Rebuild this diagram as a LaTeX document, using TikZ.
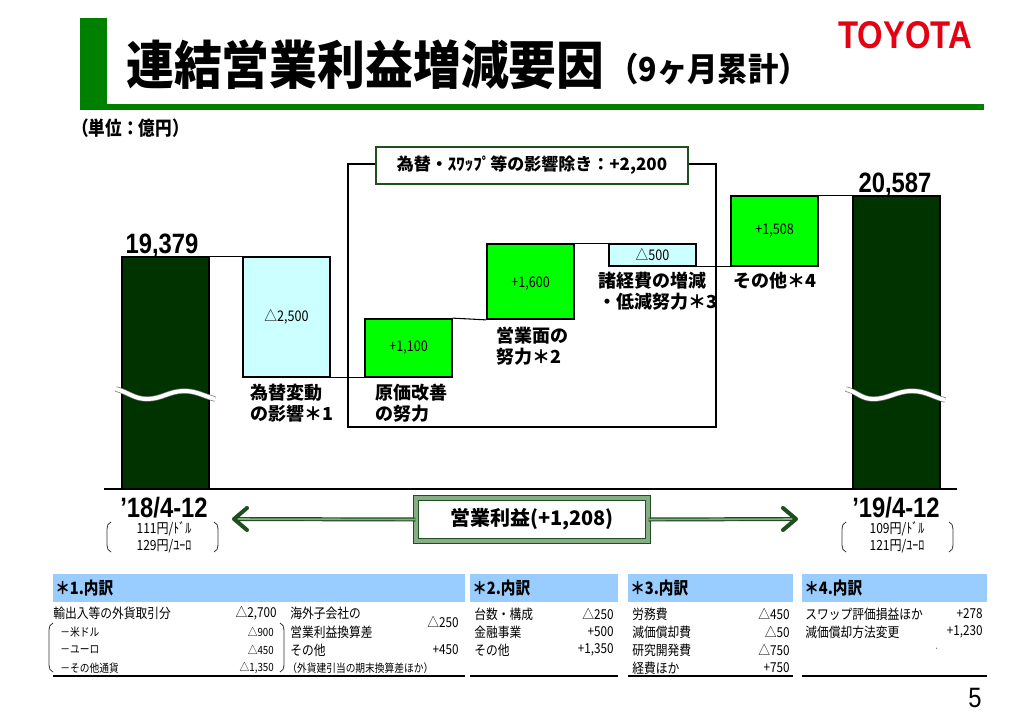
\documentclass[tikz,border=0pt]{standalone}
\usepackage{fontspec}
\setmainfont{Noto Sans CJK JP}
\newfontfamily\jpc{Noto Sans CJK JP}[FakeStretch=0.86]
\newfontfamily\jpt{Noto Sans CJK JP}[FakeStretch=0.92]
\newfontfamily\numb{Liberation Sans}[FakeStretch=0.85]
\newfontfamily\arial{Liberation Sans}
\usetikzlibrary{fit,calc}
\definecolor{tgreen}{HTML}{008000}
\definecolor{dkbar}{HTML}{003300}
\definecolor{lcyan}{HTML}{CCFFFF}
\definecolor{lgreen}{HTML}{00FF00}
\definecolor{dgreen}{HTML}{1F4F1F}
\definecolor{mgreen}{HTML}{86AD86}
\definecolor{hblue}{HTML}{99CCFF}
\definecolor{tred}{HTML}{E50012}
\begin{document}
\begin{tikzpicture}[x=0.75pt,y=-0.75pt,
  bar/.style={draw=black, line width=1.3pt, fill=dkbar, inner sep=0pt},
  negbox/.style={draw=black, line width=1.3pt, fill=lcyan, inner sep=0pt},
  posbox/.style={draw=black, line width=1.3pt, fill=lgreen, inner sep=0pt},
  val/.style={font=\jpc\fontsize{11}{12}\selectfont, inner sep=0pt},
  link/.style={line width=0.8pt},
  lbl/.style={font=\bfseries\fontsize{13.5}{15.75}\selectfont, align=left, anchor=north west, inner sep=0pt},
  bignum/.style={font=\numb\bfseries\fontsize{21}{24}\selectfont, anchor=base, inner sep=0pt},
  rate/.style={font=\jpc\fontsize{10.5}{12.75}\selectfont, align=center, inner sep=0pt},
  paren/.style={line width=0.6pt, black!80},
  wave/.style={draw=black!55, double=white, line width=0.5pt, double distance=3pt},
  shaft/.style={draw=dgreen, double=mgreen, line width=0.9pt, double distance=1.2pt},
  head/.style={draw=dgreen, line width=3pt, line cap=round, line join=round},
  hdr/.style={fill=hblue, inner sep=0pt},
  htxt/.style={font=\jpc\bfseries\fontsize{12.75}{14}\selectfont, anchor=west, inner sep=0pt},
  tl/.style={font=\jpc\fontsize{10.25}{12}\selectfont, anchor=west, inner sep=0pt},
  tr/.style={font=\jpc\fontsize{10.25}{12}\selectfont, anchor=east, inner sep=0pt},
  tsl/.style={font=\jpc\fontsize{8.5}{10}\selectfont, anchor=west, inner sep=0pt},
  tsr/.style={font=\jpc\fontsize{8.5}{10}\selectfont, anchor=east, inner sep=0pt},
  rule/.style={line width=1.6pt}
]
\useasboundingbox (0,0) rectangle (1024,721);
\fill[white] (0,0) rectangle (1024,721);

% ---- header ----
\fill[tgreen] (80,18) rectangle (107,110);
\fill[tgreen] (80,104) rectangle (984,110);
\node[anchor=west, inner sep=0pt, font=\jpt\bfseries\fontsize{39}{42}\selectfont] (title) at (126,65) {連結営業利益増減要因};
\node[anchor=west, inner sep=0pt, font=\jpt\bfseries\fontsize{24.75}{28}\selectfont] (sub) at (608,69) {（9ヶ月累計）};
\node[inner sep=0pt, text=tred, font=\numb\bfseries\fontsize{29}{30}\selectfont] (logo) at (905,35) {TOYOTA};
\node[anchor=west, inner sep=0pt, font=\jpc\bfseries\fontsize{14.5}{16}\selectfont] (unit) at (72,128) {（単位：億円）};

% ---- frame for excluding FX ----
\draw[line width=1.5pt] (348,164) rectangle (716,427);
\node[inner sep=0pt, minimum width=234pt, minimum height=27.75pt, draw=dgreen, line width=2pt, fill=white,
      font=\bfseries\fontsize{12.75}{14}\selectfont] (ex) at (532,165.5) {為替・ｽﾜｯﾌﾟ等の影響除き：+2,200};

% ---- waterfall ----
\coordinate (bl0) at (104,489);
\coordinate (bl1) at (957,489);
\draw[link] (bl0) -- (bl1);

\node[bar, fit={(122,257) (209,489)}] (b0) {};
\node[negbox, fit={(243,257) (330,377)}] (b1) {};
\node[posbox, fit={(365,319) (452,377)}] (b2) {};
\node[posbox, fit={(487,244) (574,319)}] (b3) {};
\node[negbox, fit={(609,244) (696,266)}] (b4) {};
\node[posbox, fit={(731,196) (818,266)}] (b5) {};
\node[bar, fit={(853,196) (940,489)}] (b6) {};
\node[val] (b1v) at (b1.center) {△2,500};
\node[val] (b2v) at (b2.center) {+1,100};
\node[val] (b3v) at ($(b3.center)+(0,2)$) {+1,600};
\node[val] (b4v) at (b4.center) {△500};
\node[val] (b5v) at (b5.center) {+1,508};

\draw[link] (b0.north east) -- (b1.north west);
\draw[link] (b1.south east) -- (b2.south west);
\draw[link] (b2.north east) -- (b3.south west);
\draw[link] (b3.north east) -- (b4.north west);
\draw[link] (b4.south east) -- (b5.south west);
\draw[link] (b5.north east) -- (b6.north west);

% breaks
\draw[wave] (116,389) to[out=-15,in=180] (147,399) to[out=0,in=180] (184,391) to[out=0,in=165] (215,399);
\draw[wave] (846,389) to[out=-15,in=180] (873,399) to[out=0,in=180] (912,391) to[out=0,in=165] (945,400);

% totals
\node[bignum] (v0) at (162,253) {19,379};
\node[bignum] (v6) at (895,192) {20,587};

% labels
\node[lbl] (l1) at (250,384) {為替変動\\の影響＊1};
\node[lbl] (l2) at (375,384) {原価改善\\の努力};
\node[lbl] (l3) at (496,327) {営業面の\\努力＊2};
\node[lbl] (l4) at (598,272) {諸経費の増減\\・低減努力＊3};
\node[lbl] (l5) at (733,272) {その他＊4};

% periods
\node[bignum] (p0) at (164,517) {’18/4-12};
\node[bignum] (p1) at (896,517) {’19/4-12};
\node[rate] (r0) at (164,537) {111円/ﾄﾞﾙ\\129円/ﾕｰﾛ};
\node[rate] (r1) at (897,537) {109円/ﾄﾞﾙ\\121円/ﾕｰﾛ};
\draw[paren] (111,522) to[out=200,in=90] (107,529) -- (107,545) to[out=-90,in=160] (111,552);
\draw[paren] (214,522) to[out=-20,in=90] (218,529) -- (218,545) to[out=-90,in=20] (214,552);
\draw[paren] (846,522) to[out=200,in=90] (842,529) -- (842,545) to[out=-90,in=160] (846,552);
\draw[paren] (949,522) to[out=-20,in=90] (953,529) -- (953,545) to[out=-90,in=20] (949,552);

% operating income arrow
\coordinate (la) at (234,519);
\coordinate (ra) at (796,519);
\node[inner sep=0pt, minimum width=174pt, minimum height=32.25pt, draw=dgreen, double=mgreen, line width=0.8pt, double distance=2.4pt, fill=white,
      font=\bfseries\fontsize{15}{17}\selectfont] (pf) at (532,519.5) {営業利益(+1,208)};
\draw[shaft] (la) -- (pf.west);
\draw[shaft] (pf.east) -- (ra);
\draw[head] ($(la)+(13,-11)$) -- (la) -- ($(la)+(13,11)$);
\draw[head] ($(ra)+(-13,-11)$) -- (ra) -- ($(ra)+(-13,11)$);

% ---- tables ----
\node[hdr, fit={(53,574) (465,602)}] (h1) {};
\node[hdr, fit={(470,574) (618,602)}] (h2) {};
\node[hdr, fit={(628,574) (793,602)}] (h3) {};
\node[hdr, fit={(802,574) (987,602)}] (h4) {};
\node[htxt] (h1t) at (55,588) {＊1.内訳};
\node[htxt] (h2t) at (472,588) {＊2.内訳};
\node[htxt] (h3t) at (630,588) {＊3.内訳};
\node[htxt] (h4t) at (804,588) {＊4.内訳};

% table 1
\node[tl] (t1a) at (53,613) {輸出入等の外貨取引分};
\node[tr] (t1av) at (277,613) {△2,700};
\node[tsl] (t1b) at (60,632) {－米ドル};
\node[tsr] (t1bv) at (274,632) {△900};
\node[tsl] (t1c) at (60,650) {－ユーロ};
\node[tsr] (t1cv) at (274,650) {△450};
\node[tsl] (t1d) at (60,668) {－その他通貨};
\node[tsr] (t1dv) at (274,668) {△1,350};
\draw[paren] (53,623) to[out=200,in=90] (49,630) -- (49,665) to[out=-90,in=160] (53,672);
\draw[paren] (280,623) to[out=-20,in=90] (284,630) -- (284,665) to[out=-90,in=20] (280,672);
\node[tl] (t1e) at (290,613) {海外子会社の};
\node[tl] (t1f) at (290,632) {営業利益換算差};
\node[tr] (t1ev) at (459,622) {△250};
\node[tl] (t1g) at (290,650) {その他};
\node[tr] (t1gv) at (459,650) {+450};
\node[tsl] (t1h) at (287,668) {（外貨建引当の期末換算差ほか）};
\draw[rule] (53,676) -- (465,676);

% table 2
\node[tl] (t2a) at (474,614) {台数・構成};
\node[tr] (t2av) at (614,614) {△250};
\node[tl] (t2b) at (474,632) {金融事業};
\node[tr] (t2bv) at (614,632) {+500};
\node[tl] (t2c) at (474,650) {その他};
\node[tr] (t2cv) at (614,650) {+1,350};
\draw[rule] (470,676) -- (618,676);

% table 3
\node[tl] (t3a) at (632,614) {労務費};
\node[tr] (t3av) at (790,614) {△450};
\node[tl] (t3b) at (632,632) {減価償却費};
\node[tr] (t3bv) at (790,632) {△50};
\node[tl] (t3c) at (632,650) {研究開発費};
\node[tr] (t3cv) at (790,650) {△750};
\node[tl] (t3d) at (632,668) {経費ほか};
\node[tr] (t3dv) at (790,668) {+750};
\draw[rule] (628,676) -- (793,676);

% table 4
\node[tl] (t4a) at (805,614) {スワップ評価損益ほか};
\node[tr] (t4av) at (983,614) {+278};
\node[tl] (t4b) at (805,632) {減価償却方法変更};
\node[tr] (t4bv) at (983,632) {+1,230};
\node[tsl, text=black!50] (t4dot) at (935,649) {.};
\draw[rule] (802,676) -- (987,676);

% page number
\node[inner sep=0pt, font=\numb\fontsize{21}{24}\selectfont] (pg) at (975,698) {5};
\end{tikzpicture}
\end{document}
